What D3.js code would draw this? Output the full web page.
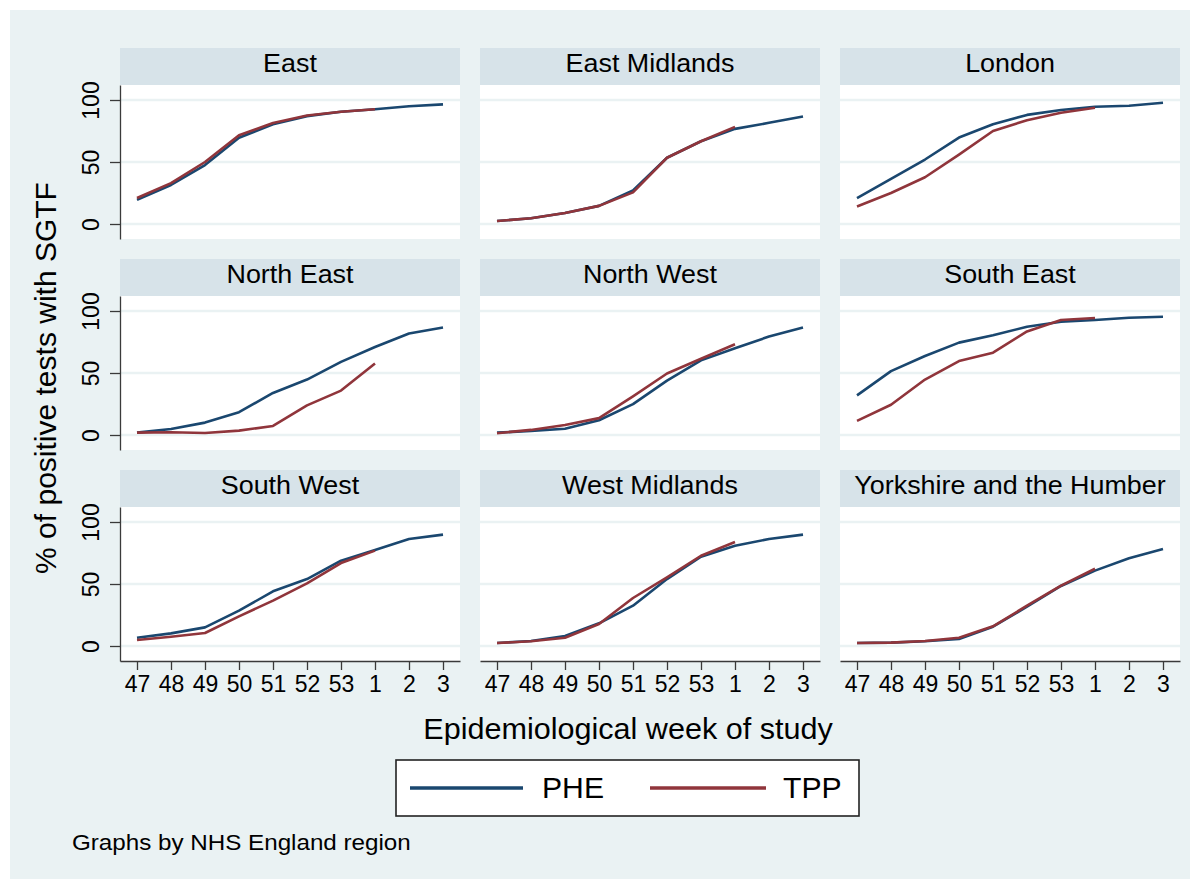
<!DOCTYPE html>
<html>
<head>
<meta charset="utf-8">
<script src="https://cdn.jsdelivr.net/npm/d3@7"></script>
<style>
  html, body { margin: 0; padding: 0; background: #ffffff; }
  svg { display: block; font-family: "Liberation Sans", Arial, sans-serif; }
</style>
</head>
<body>
<svg id="chart" width="1200" height="881"></svg>
<script>
// ---- data ----
const weeks = ["47", "48", "49", "50", "51", "52", "53", "1", "2", "3"];
const regions = ["East", "East Midlands", "London", "North East", "North West",
                 "South East", "South West", "West Midlands", "Yorkshire and the Humber"];
const seriesNames = ["PHE", "TPP"];
const yTicks = [0, 50, 100];

// % of positive tests with SGTF, PHE data (weeks 47..3)
const phe = [
  [19.5, 31.5, 47.5, 69.5, 80.5, 87.0, 90.5, 92.5, 95.0, 96.5],   // East
  [2.4, 4.6, 8.9, 14.6, 27.0, 53.4, 66.7, 76.7, 81.6, 86.7],      // East Midlands
  [20.9, 36.3, 52.0, 69.7, 80.5, 88.0, 91.9, 94.6, 95.4, 97.8],   // London
  [1.9, 4.9, 10.0, 18.4, 33.9, 44.7, 59.0, 71.0, 81.9, 86.7],     // North East
  [1.9, 3.3, 5.1, 11.9, 24.9, 43.9, 60.2, 70.0, 79.4, 86.7],      // North West
  [32.0, 51.5, 63.7, 74.5, 80.5, 87.3, 91.3, 92.7, 94.6, 95.4],   // South East
  [6.7, 10.2, 15.0, 28.5, 44.1, 54.0, 68.8, 77.4, 86.3, 89.8],    // South West
  [2.4, 4.0, 8.0, 18.3, 32.5, 54.0, 72.0, 80.9, 86.3, 89.8],      // West Midlands
  [2.4, 2.7, 3.8, 5.6, 15.6, 31.7, 48.4, 60.8, 70.7, 78.2]        // Yorkshire and the Humber
];
// TPP data (weeks 47..1)
const tpp = [
  [21.0, 33.0, 50.0, 71.5, 81.5, 87.5, 90.5, 92.5],
  [2.4, 4.6, 8.9, 14.6, 25.5, 53.4, 66.7, 78.3],
  [14.1, 25.0, 37.7, 56.0, 75.0, 83.7, 89.7, 93.8],
  [1.9, 2.2, 1.6, 3.5, 7.3, 23.9, 35.8, 57.7],
  [1.4, 4.1, 8.1, 13.6, 31.2, 49.6, 61.5, 73.2],
  [11.4, 24.4, 44.7, 59.6, 66.4, 83.5, 92.7, 94.3],
  [4.8, 7.5, 10.5, 23.9, 36.6, 50.5, 66.9, 76.9],
  [2.4, 3.8, 6.7, 17.7, 38.7, 55.4, 72.8, 83.9],
  [2.4, 2.7, 4.0, 6.7, 15.9, 32.5, 48.7, 62.3]
];

// ---- styles ----
const colors = { PHE: "#1a476f", TPP: "#90353b" };
const bgColor = "#eaf2f3";
const stripColor = "#d7e3e9";
const gridColor = "#eaf2f3";
const axisColor = "#3a3a3a";

const svg = d3.select("#chart");

function addText(parent, o) {
  const t = parent.append("text")
    .attr("transform", `translate(${o.x},${o.y})` + (o.rotate ? ` rotate(${o.rotate})` : "") + ` scale(${o.sx || 1},1)`)
    .attr("text-anchor", o.anchor || "middle")
    .attr("font-size", o.size)
    .attr("fill", "#000")
    .text(o.text);
  return t;
}

// backgrounds
svg.append("rect").attr("x", 0).attr("y", 0).attr("width", 1200).attr("height", 881).attr("fill", "#fff");
svg.append("rect").attr("x", 10).attr("y", 10).attr("width", 1180).attr("height", 869).attr("fill", bgColor);

// layout
const panelW = 340, stripH = 37, plotH = 154;
const colX = c => 120 + c * 360;
const rowY = r => 48 + r * 211;

const x = d3.scalePoint().domain(weeks).range([0, panelW]).padding(0.5);
const y = d3.scaleLinear().domain([-12.1, 112.1]).range([plotH, 0]);

const line = d3.line().x((d, i) => x(weeks[i])).y(d => y(d));

regions.forEach((name, i) => {
  const c = i % 3, r = Math.floor(i / 3);
  const g = svg.append("g").attr("transform", `translate(${colX(c)},${rowY(r)})`);
  // strip
  g.append("rect").attr("x", 0).attr("y", 0).attr("width", panelW).attr("height", stripH).attr("fill", stripColor);
  addText(g, { x: panelW / 2, y: 24, text: name, size: 26, sx: 1.035 });
  // plot area
  const p = g.append("g").attr("transform", `translate(0,${stripH})`);
  p.append("rect").attr("width", panelW).attr("height", plotH).attr("fill", "#fff");
  p.selectAll("line.grid").data(yTicks).join("line")
    .attr("class", "grid")
    .attr("x1", 0).attr("x2", panelW)
    .attr("y1", d => y(d)).attr("y2", d => y(d))
    .attr("stroke", gridColor).attr("stroke-width", 2.6);
  // series
  [["PHE", phe[i]], ["TPP", tpp[i]]].forEach(([s, vals]) => {
    p.append("path").datum(vals)
      .attr("d", line)
      .attr("fill", "none")
      .attr("stroke", colors[s])
      .attr("stroke-width", 2.6)
      .attr("stroke-linejoin", "round");
  });
  // y axis (left column)
  if (c === 0) {
    const ya = p.append("g").call(d3.axisLeft(y).tickValues(yTicks).tickSize(10).tickSizeOuter(0));
    ya.select(".domain").attr("stroke", axisColor).attr("stroke-width", 1.3);
    ya.selectAll(".tick line").attr("stroke", axisColor).attr("stroke-width", 1.3);
    ya.selectAll(".tick text")
      .attr("transform", "rotate(-90)")
      .attr("x", 0).attr("y", -21).attr("dy", 0)
      .attr("text-anchor", "middle")
      .attr("font-size", 23)
      .attr("font-family", "Liberation Sans, Arial, sans-serif")
      .attr("fill", "#000");
  }
  // x axis (bottom row)
  if (r === 2) {
    const xa = p.append("g").attr("transform", `translate(0,${plotH})`)
      .call(d3.axisBottom(x).tickSize(9).tickSizeOuter(0));
    xa.select(".domain").attr("stroke", axisColor).attr("stroke-width", 1.3);
    xa.selectAll(".tick line").attr("stroke", axisColor).attr("stroke-width", 1.3);
    xa.selectAll(".tick text")
      .attr("y", 31).attr("dy", 0)
      .attr("font-size", 23)
      .attr("font-family", "Liberation Sans, Arial, sans-serif")
      .attr("fill", "#000");
  }
});

// axis titles
addText(svg, { x: 56, y: 378, rotate: -90, text: "% of positive tests with SGTF", size: 30, sx: 1.0 });
addText(svg, { x: 628, y: 739, text: "Epidemiological week of study", size: 29, sx: 1.054 });

// legend
const lg = svg.append("g");
lg.append("rect").attr("x", 396).attr("y", 760).attr("width", 463).attr("height", 56)
  .attr("fill", "#fff").attr("stroke", "#222").attr("stroke-width", 1.6);
const legendPos = [{ x1: 410, x2: 523, tx: 542 }, { x1: 650, x2: 766, tx: 783 }];
seriesNames.forEach((s, k) => {
  const lp = legendPos[k];
  lg.append("line").attr("x1", lp.x1).attr("x2", lp.x2).attr("y1", 788).attr("y2", 788)
    .attr("stroke", colors[s]).attr("stroke-width", 3.5);
  addText(lg, { x: lp.tx, y: 798, text: s, size: 29, sx: 1.04, anchor: "start" });
});

// note
addText(svg, { x: 72, y: 850, text: "Graphs by NHS England region", size: 22, sx: 1.1, anchor: "start" });
</script>
</body>
</html>
